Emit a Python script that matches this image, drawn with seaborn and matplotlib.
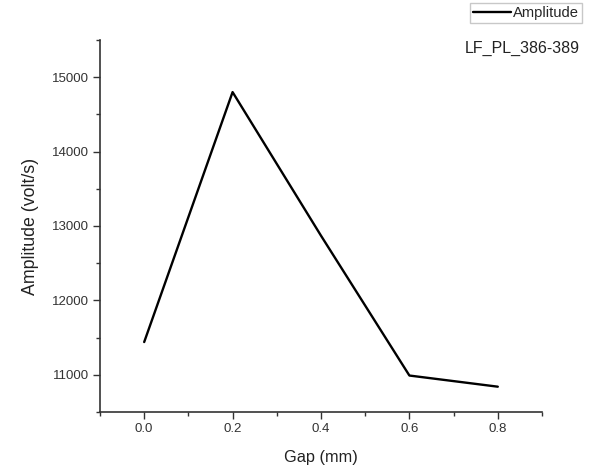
import matplotlib
matplotlib.use("Agg")
import matplotlib.pyplot as plt
import seaborn as sns
import pandas as pd
from matplotlib.ticker import MultipleLocator

gap_mm = [0.0, 0.2, 0.4, 0.6, 0.8]
amplitude = [11440, 14800, 12870, 10990, 10840]
x_ticks = [0.0, 0.2, 0.4, 0.6, 0.8]
y_ticks = [11000, 12000, 13000, 14000, 15000]

sns.set_theme(style="ticks")
plt.rcParams['font.family'] = ['Liberation Sans', 'DejaVu Sans']

df = pd.DataFrame({"Gap (mm)": gap_mm, "Amplitude (volt/s)": amplitude})

fig = plt.figure(figsize=(5.93, 4.73), dpi=100)
ax = fig.add_axes([0.1686, 0.129, 0.914 - 0.1686, 0.9154 - 0.129])
sns.lineplot(data=df, x="Gap (mm)", y="Amplitude (volt/s)", ax=ax,
             color="black", linewidth=1.7, label="Amplitude", legend=False)

ax.set_xlim(-0.1, 0.9)
ax.set_ylim(10500, 15500)
ax.set_xticks(x_ticks)
ax.set_xticklabels([f"{v:.1f}" for v in x_ticks])
ax.set_yticks(y_ticks)
ax.set_yticklabels([str(v) for v in y_ticks])
ax.xaxis.set_minor_locator(MultipleLocator(0.1))
ax.yaxis.set_minor_locator(MultipleLocator(500))
ax.tick_params(which="major", direction="out", length=5, width=1, labelsize=9.5,
               colors="#333333", labelcolor="#333333", pad=3)
ax.tick_params(which="minor", direction="out", length=3, width=1, colors="#333333")
for s in ["top", "right"]:
    ax.spines[s].set_visible(False)
for s in ["left", "bottom"]:
    ax.spines[s].set_color("#333333")
    ax.spines[s].set_linewidth(1.2)

ax.set_xlabel("Gap (mm)", fontsize=11.8, color="#222222", labelpad=11)
ax.set_ylabel("Amplitude (volt/s)", fontsize=12.8, color="#222222", labelpad=9)

handles, labels = ax.get_legend_handles_labels()
fig.legend(handles, labels, loc="upper right", bbox_to_anchor=(0.982, 0.994),
           fontsize=10.6, frameon=True, fancybox=False, edgecolor="#bbbbbb",
           handlelength=2.6, handletextpad=0.15, borderpad=0.2, borderaxespad=0)
fig.text(0.978, 0.898, "LF_PL_386-389", ha="right", va="center", fontsize=11.5, color="#222222")

fig.savefig("out.png", dpi=100)
